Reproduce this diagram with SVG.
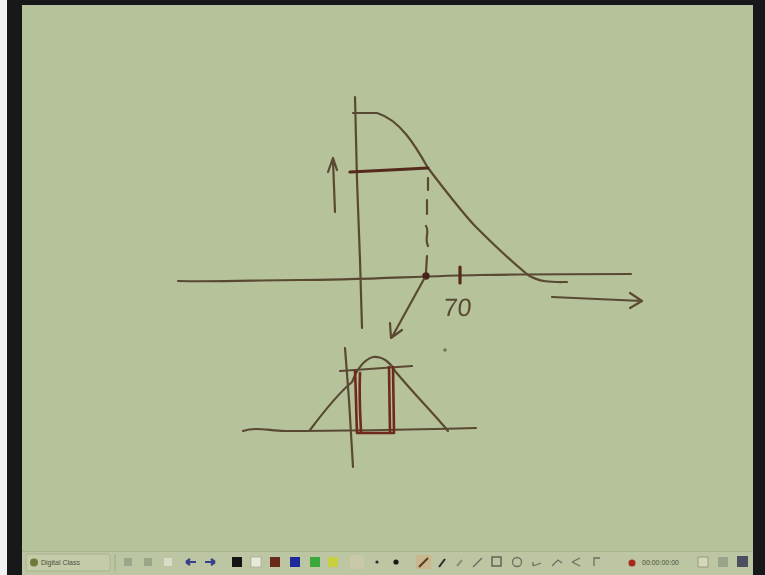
<svg xmlns="http://www.w3.org/2000/svg" width="765" height="575" viewBox="0 0 765 575">
  <style>
    .ink { fill: none; stroke: #5a4a32; stroke-width: 2.2; stroke-linecap: round; stroke-linejoin: round; }
    .bold { fill: none; stroke: #542a1c; stroke-width: 3.2; stroke-linecap: round; stroke-linejoin: round; }
    .red { fill: none; stroke: #6e2a1c; stroke-width: 2.6; stroke-linecap: round; stroke-linejoin: round; }
    .ico { fill: #9aa58a; }
    .tb { font-family: "Liberation Sans", Arial, sans-serif; font-size: 7px; fill: #4a5040; }
  </style>
  <defs>
    <filter id="soft" x="-5%" y="-5%" width="110%" height="110%">
      <feGaussianBlur stdDeviation="0.6"/>
    </filter>
  </defs>

  <!-- screen frame -->
  <rect x="0" y="0" width="765" height="575" fill="#16181a"/>
  <rect x="0" y="0" width="7" height="575" fill="#f2f2f2"/>
  <rect x="22" y="5" width="731" height="546" fill="#b5c29a"/>

  <!-- taskbar -->
  <rect x="22" y="551" width="731" height="24" fill="#bcc6a2"/>
  <line x1="22" y1="551.5" x2="753" y2="551.5" stroke="#a9b38f" stroke-width="1"/>
  <g id="taskbar">
    <rect x="26" y="554" width="84" height="17" rx="2" fill="#c3cba9" stroke="#a3ad8a" stroke-width="0.8"/>
    <circle cx="34" cy="562.5" r="4" fill="#6f7a3a"/>
    <text class="tb" x="41" y="565">Digital Class</text>
    <line x1="115" y1="554" x2="115" y2="571" stroke="#9ea88a"/>
    <rect class="ico" x="124" y="558" width="8" height="8"/>
    <rect class="ico" x="144" y="558" width="8" height="8"/>
    <rect x="164" y="558" width="8" height="8" fill="#d8dcc8"/>
    <path d="M186 562 h10 M186 562 l4 -3 M186 562 l4 3" stroke="#3a3f8a" stroke-width="2.2" fill="none"/>
    <path d="M215 562 h-10 M215 562 l-4 -3 M215 562 l-4 3" stroke="#3a3f8a" stroke-width="2.2" fill="none"/>
    <rect x="232" y="557" width="10" height="10" fill="#141414"/>
    <rect x="251" y="557" width="10" height="10" fill="#e8eadc" stroke="#9aa08a" stroke-width="0.6"/>
    <rect x="270" y="557" width="10" height="10" fill="#6a2a1a"/>
    <rect x="290" y="557" width="10" height="10" fill="#1e2a9a"/>
    <rect x="310" y="557" width="10" height="10" fill="#3aa83a"/>
    <rect x="328" y="557" width="10" height="10" fill="#c8d040"/>
    <rect x="350" y="555" width="14" height="14" fill="#c9c9a8"/>
    <circle cx="377" cy="562" r="1.6" fill="#2a2a2a"/>
    <circle cx="396" cy="562" r="2.6" fill="#1a1a1a"/>
    <rect x="416" y="555" width="15" height="14" fill="#c9b88e"/>
    <path d="M419 567 l9 -9" stroke="#5a3a20" stroke-width="2"/>
    <path d="M439 567 l6 -8" stroke="#2a2a2a" stroke-width="2"/>
    <path d="M457 566 l5 -6" stroke="#8a9078" stroke-width="2"/>
    <path d="M473 567 l9 -9" stroke="#6a7060" stroke-width="1.4"/>
    <rect x="492" y="557" width="9" height="9" fill="none" stroke="#50584a" stroke-width="1.3"/>
    <circle cx="517" cy="562" r="4.5" fill="none" stroke="#6a7060" stroke-width="1.3"/>
    <path d="M533 566 l8 -3 M533 566 v-4" stroke="#6a7060" stroke-width="1.3" fill="none"/>
    <path d="M552 566 l6 -6 l4 3" stroke="#6a7060" stroke-width="1.3" fill="none"/>
    <path d="M572 562 l8 -4 M572 562 l8 4" stroke="#6a7060" stroke-width="1.3" fill="none"/>
    <path d="M594 566 v-8 h6" stroke="#6a7060" stroke-width="1.3" fill="none"/>
    <circle cx="632" cy="563" r="3.5" fill="#a8281a"/>
    <text class="tb" x="642" y="565" fill="#7a8070">00:00:00:00</text>
    <rect x="698" y="557" width="10" height="10" fill="#d4d8b8" stroke="#8a9078" stroke-width="0.8"/>
    <rect x="718" y="557" width="10" height="10" fill="#9aa48a"/>
    <rect x="737" y="556" width="11" height="11" fill="#4a5060"/>
  </g>

  <g id="sketch" filter="url(#soft)">
    <!-- upper graph axes -->
    <path class="ink" d="M355 97 L357 180 L360 260 L362 328"/>
    <path class="ink" d="M178 281 C 220 282, 260 280, 300 280 C 360 280, 420 276, 480 275 C 540 274, 590 274, 631 274"/>
    <!-- decreasing curve -->
    <path class="ink" d="M353 113 L377 113 C 400 120, 415 145, 428 168 C 445 190, 460 210, 475 226 C 495 246, 512 262, 528 275 C 540 283, 555 282, 567 282"/>
    <!-- horizontal bold bar -->
    <path class="bold" d="M350 172 L390 170 L428 168"/>
    <!-- up arrow -->
    <path class="ink" d="M335 212 L333 160 M328 172 L333 158 L337 170"/>
    <!-- dashed vertical -->
    <path class="ink" stroke-width="1.8" d="M428 178 L428 190 M427 200 L427 214 M426 226 C 430 232, 424 238, 428 246 M427 256 L426 272"/>
    <circle cx="426" cy="276" r="3.7" fill="#4a2418"/>
    <!-- tick and label -->
    <path class="bold" stroke-width="2.4" d="M460 267 L460 283"/>
    <text x="443" y="316" font-family="Liberation Sans, Arial, sans-serif" font-size="25" fill="#5a4a32" transform="skewX(-6) translate(33 0)">70</text>
    <!-- right arrow -->
    <path class="ink" d="M552 297 L642 301 M630 293 L642 301 L630 308"/>
    <!-- down-left arrow -->
    <path class="ink" d="M424 279 L392 337 M390 323 L391 338 L402 330"/>

    <!-- lower sketch -->
    <path class="ink" d="M243 431 C 255 427, 265 430, 285 431 C 340 431, 400 430, 476 428"/>
    <path class="ink" d="M345 348 L349 400 L353 467"/>
    <path class="ink" d="M310 430 C 325 410, 340 392, 352 382 C 356 372, 362 360, 373 357 C 382 356, 390 362, 395 371 C 415 395, 435 415, 448 431"/>
    <path class="ink" d="M340 371 L412 366"/>
    <!-- red rectangle -->
    <path class="red" d="M355 371 C 356 390, 356 410, 357 432 M360 373 C 359 395, 360 412, 361 432"/>
    <path class="red" d="M389 367 L390 432 M393 367 L394 432"/>
    <path class="red" stroke-width="3" d="M357 433 L394 433"/>
    <!-- cursor mark -->
    <circle cx="445" cy="350" r="1.8" fill="#6e7860"/>
  </g>
</svg>
